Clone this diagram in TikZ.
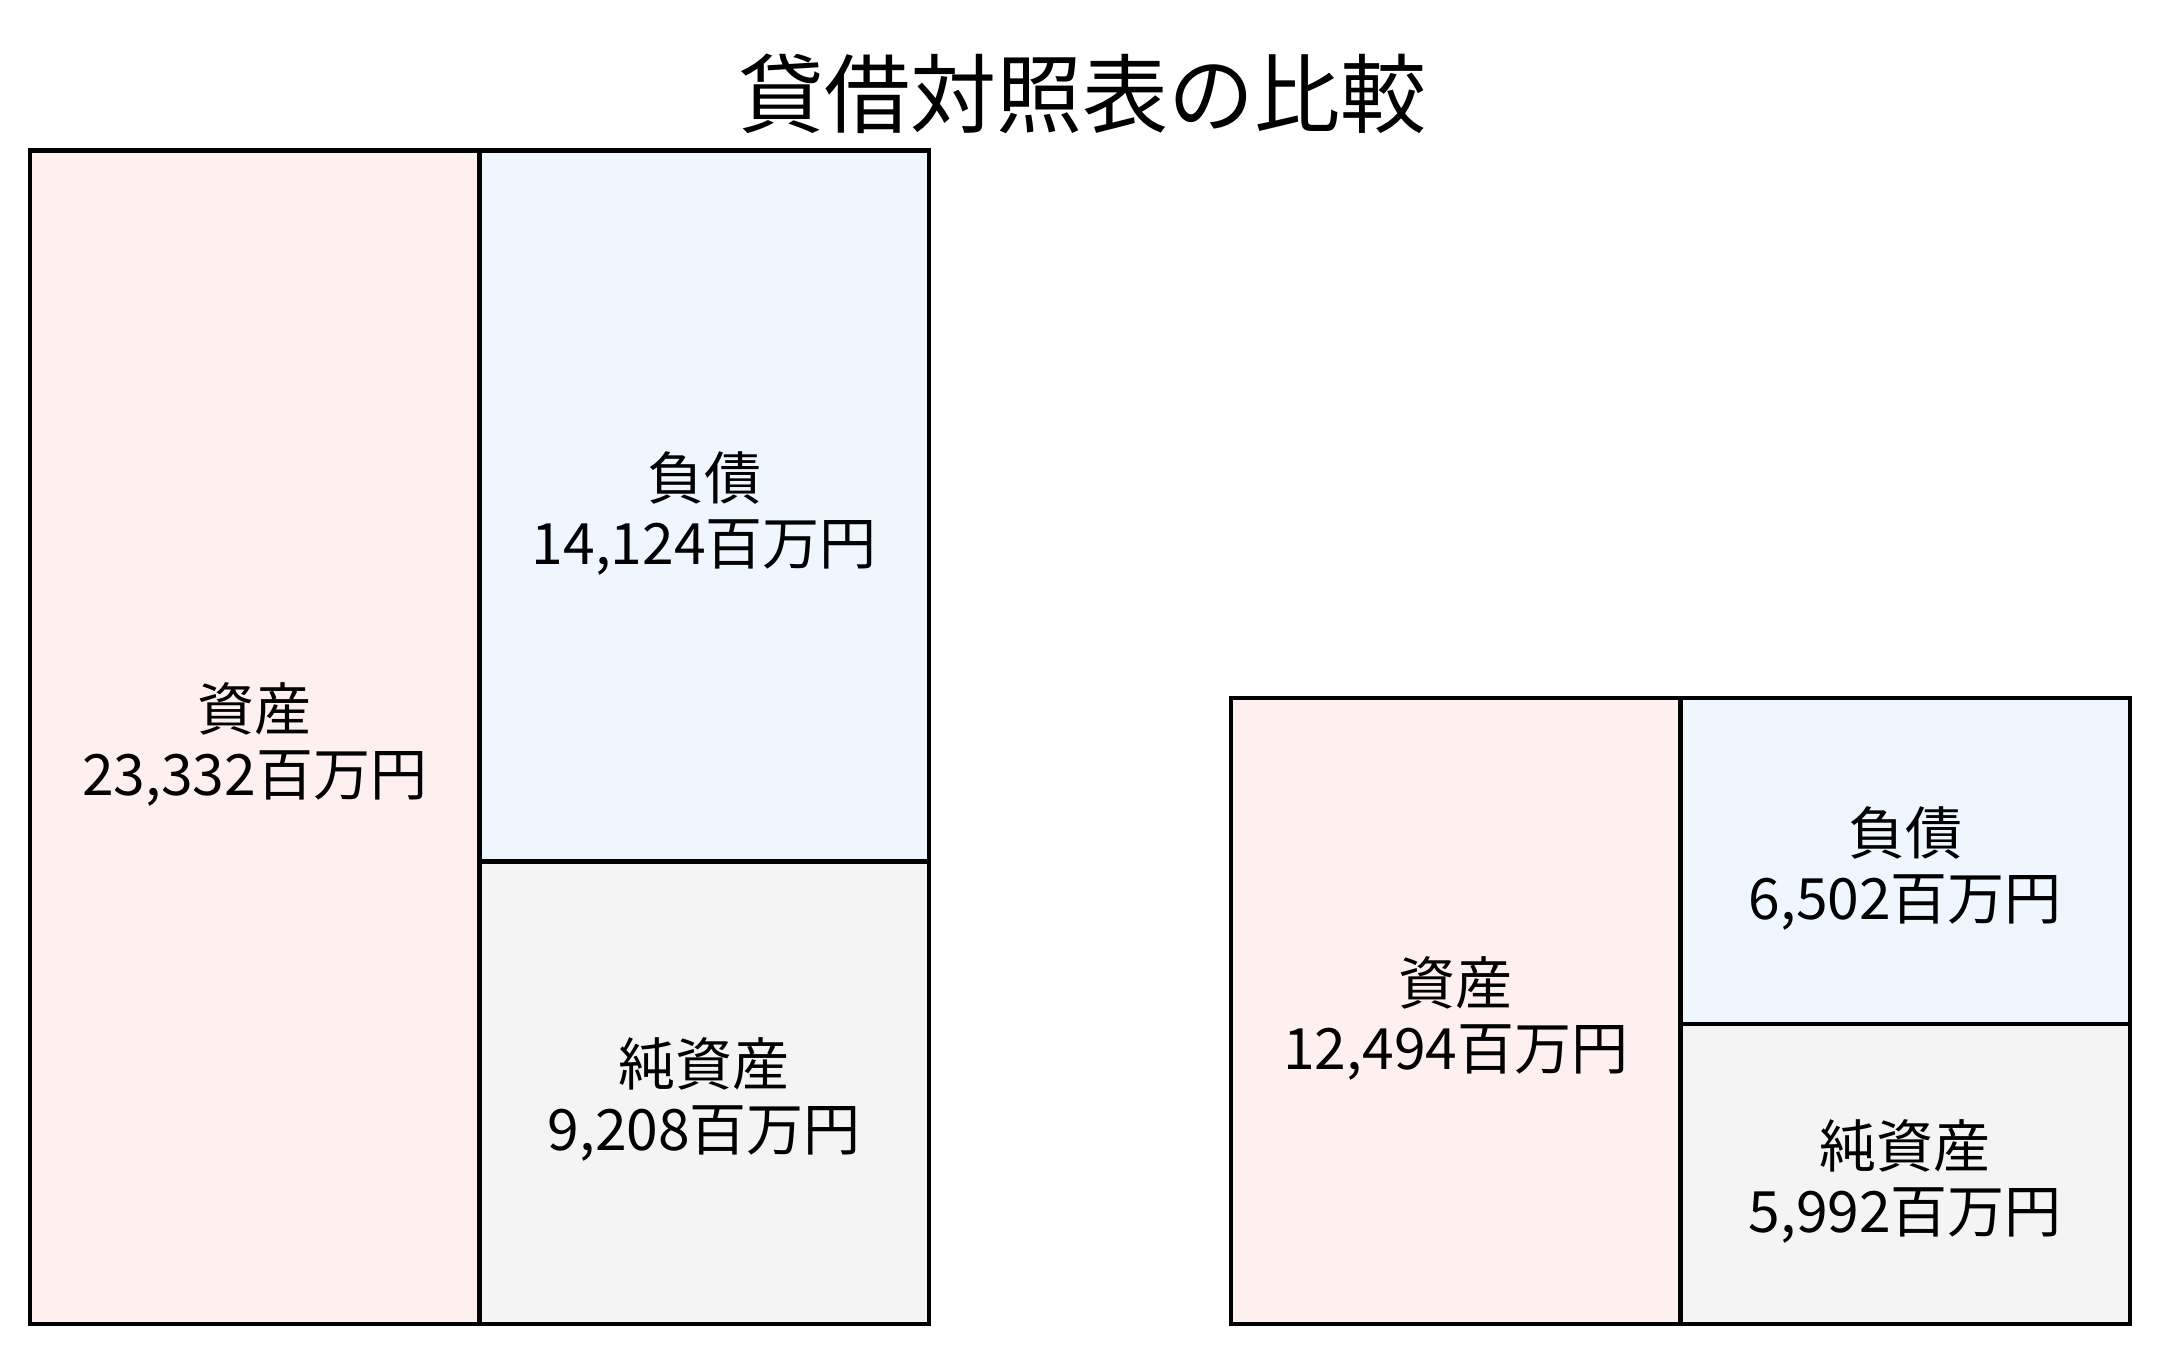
\documentclass[tikz,border=0pt]{standalone}
\usepackage{fontspec}
\setmainfont{Noto Sans CJK JP}
\definecolor{assetpink}{HTML}{FDF0EF}
\definecolor{debtblue}{HTML}{EFF6FE}
\definecolor{equitygray}{HTML}{F4F4F4}
\newcommand{\toprow}{\rule{0pt}{31pt}}
\tikzset{
  block/.style={draw=black, line width=2.25pt, inner sep=0pt, outer sep=0pt,
    anchor=north west, minimum width=224.75pt, align=center,
    font=\fontsize{28.5}{32.5}\selectfont},
  assetbox/.style={block, fill=assetpink},
  debtbox/.style={block, fill=debtblue},
  equitybox/.style={block, fill=equitygray}
}

\begin{document}
\begin{tikzpicture}[x = 0.5pt, y = -0.5pt]
            \useasboundingbox (0, 0) rectangle (2160, 1354);
            \node (title) at (1082, 94) {\fontsize{43}{46}\selectfont 貸借対照表の比較};
            % before
            \node [assetbox, minimum height = 586.75pt] (assetA) at (30, 150.5) {\toprow 資産\\23,332百万円};
            \node [debtbox, minimum height = 355.5pt] (debtA) at (assetA.north east) {\toprow 負債\\14,124百万円};
            \node [equitybox, minimum height = 231.25pt] (equityA) at (debtA.south west) {\toprow 純資産\\9,208百万円};
            % after
            \node [assetbox, minimum height = 313pt] (assetB) at (1231, 698) {\toprow 資産\\12,494百万円};
            \node [debtbox, minimum height = 163pt] (debtB) at (assetB.north east) {\toprow 負債\\6,502百万円};
            \node [equitybox, minimum height = 150pt] (equityB) at (debtB.south west) {\toprow 純資産\\5,992百万円};
        \end{tikzpicture}
\end{document}
